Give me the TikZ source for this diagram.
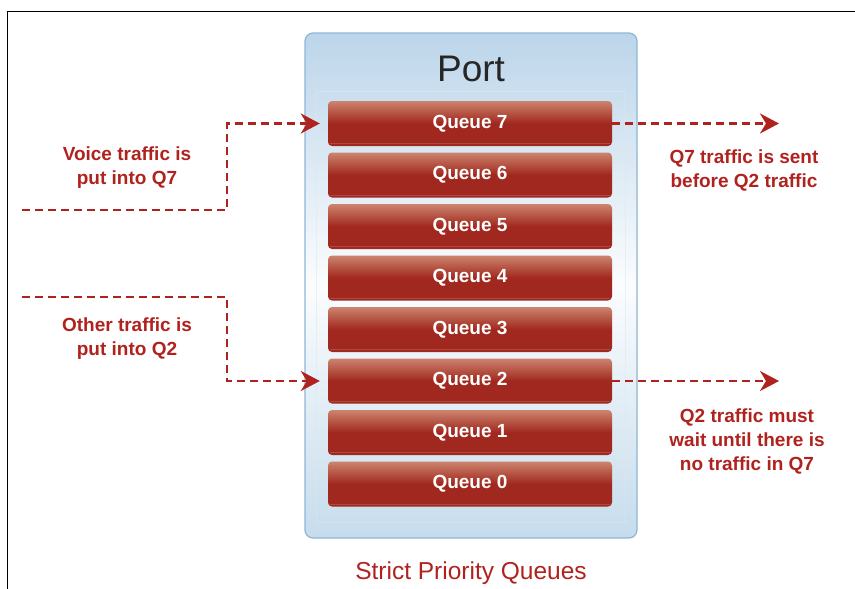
\documentclass[tikz,border=0pt]{standalone}
\usepackage{fontspec}
\setmainfont{Liberation Sans}
\usetikzlibrary{arrows.meta}
\definecolor{portline}{HTML}{8DB6D6}
\definecolor{porttop}{HTML}{BCD5EA}
\definecolor{portbot}{HTML}{C6DCEC}
\definecolor{qtop}{HTML}{CC846E}
\definecolor{qbot}{HTML}{A1281E}
\definecolor{labred}{HTML}{B0221E}
\tikzset{
  portbox/.style={draw=portline, line width=1.2pt, rounded corners=8pt, minimum width=332pt, minimum height=505pt, top color=porttop, bottom color=portbot, middle color=white!94!porttop},
  queue/.style={rounded corners=4pt, minimum width=284pt, minimum height=45pt, top color=qtop, bottom color=qbot, middle color=qbot, text=white, font=\bfseries\fontsize{19}{19}\selectfont},
  flow/.style={draw=labred, line width=2.2pt, dash pattern=on 8pt off 5pt, -{Stealth[length=19pt,width=20pt,inset=6pt]}},
  note/.style={text=labred, align=center, font=\bfseries\fontsize{19}{24}\selectfont},
}
\begin{document}
\begin{tikzpicture}[x=1pt,y=-1pt]
  \useasboundingbox (0,0) rectangle (855,589);
  \draw[line width=1pt] (7,589) -- (7,11) -- (855,11);
  \node[portbox] (port) at (471,285.5) {};
  \draw[white!45!porttop, opacity=0.5, line width=0.5pt] (316,91) rectangle (625,522);
  \node[font=\fontsize{37}{37}\selectfont, text=black!85] (porttitle) at (471,69) {Port};
  \foreach \i in {0,...,7}{
    \node[queue] (q\i) at (470,{484-51.5*\i}) {Queue \i};
    \draw[qbot!85!white, line width=0.5pt] ([shift={(2,-2.5)}]q\i.south west) -- ([shift={(-2,-2.5)}]q\i.south east);
  }
  % incoming traffic
  \coordinate (vin) at (22,210);
  \coordinate (vbend) at (227,210);
  \coordinate (oin) at (22,297);
  \coordinate (obend) at (227,297);
  \draw[flow] (vin) -- (vbend) |- ([xshift=-8pt]q7.west);
  \draw[flow] (oin) -- (obend) |- ([xshift=-8pt]q2.west);
  % outgoing traffic
  \coordinate (out) at (779,0);
  \draw[flow] (q7.east) -- (q7.east -| out);
  \draw[flow] (q2.east) -- (q2.east -| out);
  \node[note] (voice) at (127,168) {Voice traffic is\\put into Q7};
  \node[note] (other) at (127,339) {Other traffic is\\put into Q2};
  \node[note] (sent) at (744,170) {Q7 traffic is sent\\before Q2 traffic};
  \node[note] (wait) at (747,441) {Q2 traffic must\\wait until there is\\no traffic in Q7};
  \node[text=labred, font=\fontsize{24.5}{24.5}\selectfont] (caption) at (471,573) {Strict Priority Queues};
\end{tikzpicture}
\end{document}
